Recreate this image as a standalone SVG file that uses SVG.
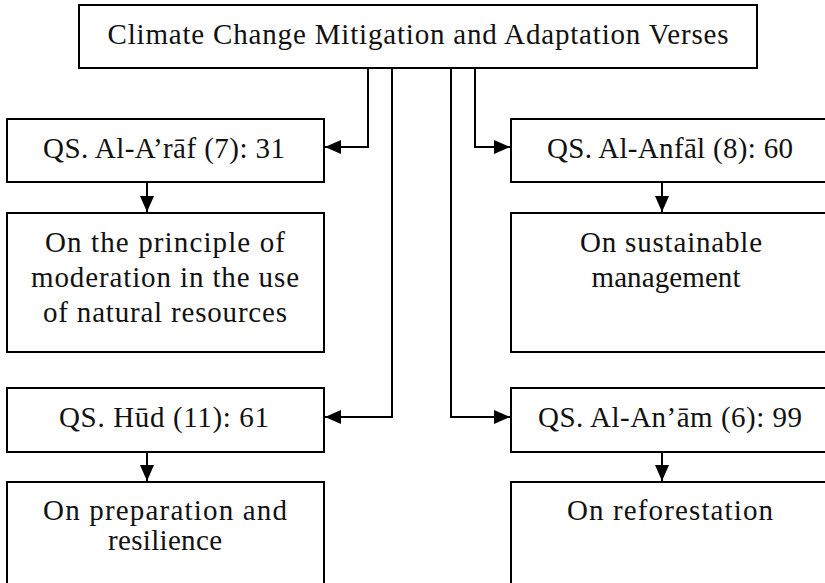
<svg xmlns="http://www.w3.org/2000/svg" width="825" height="583" viewBox="0 0 825 583">
<defs>
<style>
.box{fill:#fff;stroke:#000;stroke-width:2}
.t{font-family:'Liberation Serif','DejaVu Serif','Times New Roman',serif;font-size:29px;fill:#111;text-anchor:middle}
.c{fill:none;stroke:#000;stroke-width:2}
</style>
<marker id="ah" markerUnits="userSpaceOnUse" markerWidth="16" markerHeight="14" refX="16" refY="7" orient="auto">
<path d="M0,0 L16,7 L0,14 Z" fill="#000"/>
</marker>
</defs>
<rect width="825" height="583" fill="#fff"/>
<g id="connectors">
<path class="c" d="M368,68 V147 H325" marker-end="url(#ah)"/>
<path class="c" d="M392,68 V417 H325" marker-end="url(#ah)"/>
<path class="c" d="M475,68 V147 H510" marker-end="url(#ah)"/>
<path class="c" d="M451,68 V417 H510" marker-end="url(#ah)"/>
<path class="c" d="M147,182 V212" marker-end="url(#ah)"/>
<path class="c" d="M147,452 V481" marker-end="url(#ah)"/>
<path class="c" d="M662,182 V212" marker-end="url(#ah)"/>
<path class="c" d="M662,452 V481" marker-end="url(#ah)"/>
</g>
<g id="root" font-family="'Liberation Serif','DejaVu Serif',serif">
<rect class="box" x="79" y="5" width="678" height="63"/>
<text class="t" x="418" y="44" textLength="621" lengthAdjust="spacing">Climate Change Mitigation and Adaptation Verses</text>
</g>
<g id="araf" font-family="'Liberation Serif','DejaVu Serif',serif">
<rect class="box" x="7" y="119" width="317" height="63"/>
<text class="t" x="164" y="158" textLength="242" lengthAdjust="spacing">QS. Al-A’rāf (7): 31</text>
</g>
<g id="moderation" font-family="'Liberation Serif','DejaVu Serif',serif">
<rect class="box" x="7" y="213" width="317" height="139"/>
<text class="t" x="165" y="252" textLength="240" lengthAdjust="spacing">On the principle of</text>
<text class="t" x="165" y="287" textLength="268" lengthAdjust="spacing">moderation in the use</text>
<text class="t" x="165" y="322" textLength="244" lengthAdjust="spacing">of natural resources</text>
</g>
<g id="hud" font-family="'Liberation Serif','DejaVu Serif',serif">
<rect class="box" x="7" y="388" width="317" height="64"/>
<text class="t" x="164" y="427" textLength="210" lengthAdjust="spacing">QS. Hūd (11): 61</text>
</g>
<g id="resilience" font-family="'Liberation Serif','DejaVu Serif',serif">
<rect class="box" x="7" y="482" width="317" height="110"/>
<text class="t" x="165" y="520" textLength="244" lengthAdjust="spacing">On preparation and</text>
<text class="t" x="165" y="550" textLength="114" lengthAdjust="spacing">resilience</text>
</g>
<g id="anfal" font-family="'Liberation Serif','DejaVu Serif',serif">
<rect class="box" x="511" y="119" width="320" height="63"/>
<text class="t" x="670" y="158" textLength="246" lengthAdjust="spacing">QS. Al-Anfāl (8): 60</text>
</g>
<g id="sustainable" font-family="'Liberation Serif','DejaVu Serif',serif">
<rect class="box" x="511" y="213" width="320" height="139"/>
<text class="t" x="671" y="252" textLength="182" lengthAdjust="spacing">On sustainable</text>
<text class="t" x="666" y="287" textLength="149" lengthAdjust="spacing">management</text>
</g>
<g id="anam" font-family="'Liberation Serif','DejaVu Serif',serif">
<rect class="box" x="511" y="388" width="320" height="64"/>
<text class="t" x="670" y="427" textLength="264" lengthAdjust="spacing">QS. Al-An’ām (6): 99</text>
</g>
<g id="reforestation" font-family="'Liberation Serif','DejaVu Serif',serif">
<rect class="box" x="511" y="482" width="320" height="110"/>
<text class="t" x="670" y="520" textLength="206" lengthAdjust="spacing">On reforestation</text>
</g>
</svg>
